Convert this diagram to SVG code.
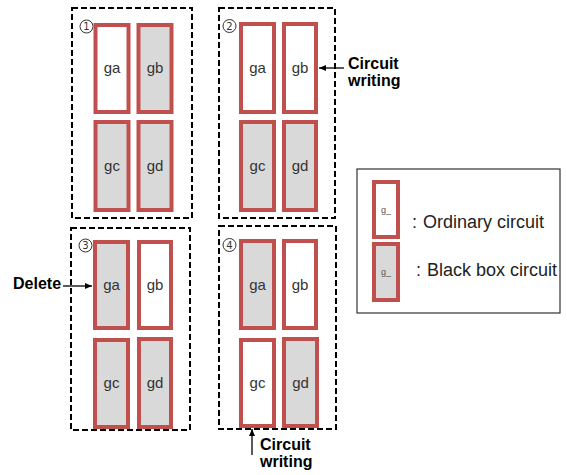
<svg xmlns="http://www.w3.org/2000/svg" width="567" height="475" viewBox="0 0 567 475">
  <style>
    .frame { fill: none; stroke: #000; stroke-width: 2; stroke-dasharray: 6 3; }
    .cell { stroke: #c0504d; stroke-width: 4; }
    .ord { fill: #ffffff; }
    .bb { fill: #d9d9d9; }
    .lbl { font-family: "Liberation Sans", Arial, sans-serif; font-size: 15px; fill: #333; text-anchor: middle; }
    .num { font-family: "DejaVu Sans", sans-serif; font-size: 10px; fill: #333; text-anchor: middle; }
    .ring { fill: #fff; stroke: #333; stroke-width: 1; }
    .note { font-family: "Liberation Sans", Arial, sans-serif; font-size: 16px; font-weight: bold; fill: #000; }
    .leg { font-family: "Liberation Sans", Arial, sans-serif; font-size: 18px; fill: #222; }
    .small { font-family: "Liberation Sans", Arial, sans-serif; font-size: 9px; fill: #555; text-anchor: middle; }
    .conn { stroke: #000; stroke-width: 1.3; fill: none; marker-end: url(#ah); }
  </style>
  <defs>
    <marker id="ah" markerWidth="8" markerHeight="8" refX="7" refY="4" orient="auto" markerUnits="userSpaceOnUse">
      <path d="M0,1 L7,4 L0,7 Z" fill="#000"/>
    </marker>
  </defs>

  <!-- Step 1 -->
  <g id="step1">
    <rect class="frame" x="72" y="8" width="120" height="210"/>
    <g id="s1-no"><circle class="ring" cx="86.5" cy="26.5" r="6.5"/><text class="num" x="86.5" y="30">1</text></g>
    <g id="s1-ga"><rect class="cell ord" x="95.5" y="25" width="33" height="87"/><text class="lbl" x="112" y="73">ga</text></g>
    <g id="s1-gb"><rect class="cell bb" x="138.5" y="25" width="33" height="87"/><text class="lbl" x="155" y="73">gb</text></g>
    <g id="s1-gc"><rect class="cell bb" x="95.5" y="122" width="33" height="88"/><text class="lbl" x="112" y="171">gc</text></g>
    <g id="s1-gd"><rect class="cell bb" x="138.5" y="122" width="33" height="88"/><text class="lbl" x="155" y="171">gd</text></g>
  </g>

  <!-- Step 2 -->
  <g id="step2">
    <rect class="frame" x="219" y="8" width="116" height="210"/>
    <g id="s2-no"><circle class="ring" cx="229.5" cy="26" r="6.5"/><text class="num" x="229.5" y="29.5">2</text></g>
    <g id="s2-ga"><rect class="cell ord" x="241" y="24" width="33" height="88"/><text class="lbl" x="257.5" y="73">ga</text></g>
    <g id="s2-gb"><rect class="cell ord" x="284" y="24" width="32" height="88"/><text class="lbl" x="300" y="73">gb</text></g>
    <g id="s2-gc"><rect class="cell bb" x="241" y="122" width="33" height="88"/><text class="lbl" x="257.5" y="171">gc</text></g>
    <g id="s2-gd"><rect class="cell bb" x="284" y="122" width="32" height="88"/><text class="lbl" x="300" y="171">gd</text></g>
  </g>

  <!-- Step 3 -->
  <g id="step3">
    <rect class="frame" x="71" y="228" width="119" height="202"/>
    <g id="s3-no"><circle class="ring" cx="85.5" cy="245.5" r="6.5"/><text class="num" x="85.5" y="249">3</text></g>
    <g id="s3-ga"><rect class="cell bb" x="95" y="242" width="33" height="86"/><text class="lbl" x="111.5" y="290">ga</text></g>
    <g id="s3-gb"><rect class="cell ord" x="139" y="242" width="32" height="86"/><text class="lbl" x="155" y="290">gb</text></g>
    <g id="s3-gc"><rect class="cell bb" x="95" y="340" width="33" height="87"/><text class="lbl" x="111.5" y="388">gc</text></g>
    <g id="s3-gd"><rect class="cell bb" x="139" y="339" width="32" height="88"/><text class="lbl" x="155" y="388">gd</text></g>
  </g>

  <!-- Step 4 -->
  <g id="step4">
    <rect class="frame" x="219" y="226" width="117" height="203"/>
    <g id="s4-no"><circle class="ring" cx="229.5" cy="245" r="6.5"/><text class="num" x="229.5" y="248.5">4</text></g>
    <g id="s4-ga"><rect class="cell bb" x="241" y="241" width="33" height="87"/><text class="lbl" x="257.5" y="290">ga</text></g>
    <g id="s4-gb"><rect class="cell ord" x="284" y="241" width="32" height="87"/><text class="lbl" x="300" y="290">gb</text></g>
    <g id="s4-gc"><rect class="cell ord" x="241" y="340" width="33" height="86"/><text class="lbl" x="257.5" y="388">gc</text></g>
    <g id="s4-gd"><rect class="cell bb" x="284" y="339" width="33" height="87"/><text class="lbl" x="300.5" y="388">gd</text></g>
  </g>

  <!-- Legend -->
  <g id="legend">
    <rect x="357" y="169" width="203" height="144" fill="#fff" stroke="#333" stroke-width="1.2"/>
    <g id="leg-ord"><rect class="cell ord" x="374" y="182" width="24" height="55"/><text class="small" x="386" y="213">g_</text></g>
    <g id="leg-bb"><rect class="cell bb" x="374" y="244" width="24" height="56"/><text class="small" x="386" y="275">g_</text></g>
    <text class="leg" x="412" y="228">:</text><text class="leg" x="423" y="228">Ordinary circuit</text>
    <text class="leg" x="416" y="276">:</text><text class="leg" x="427" y="276">Black box circuit</text>
  </g>

  <!-- Annotation labels -->
  <g id="note-write2"><text class="note" x="348" y="69">Circuit</text><text class="note" x="348" y="86">writing</text></g>
  <g id="note-delete"><text class="note" x="13" y="289">Delete</text></g>
  <g id="note-write4"><text class="note" x="260" y="450">Circuit</text><text class="note" x="260" y="467">writing</text></g>

  <!-- Connectors -->
  <g id="connectors">
    <line class="conn" x1="344" y1="68" x2="319" y2="68"/>
    <line class="conn" x1="63" y1="286" x2="92" y2="286"/>
    <line class="conn" x1="252" y1="455" x2="252" y2="429"/>
  </g>
</svg>
